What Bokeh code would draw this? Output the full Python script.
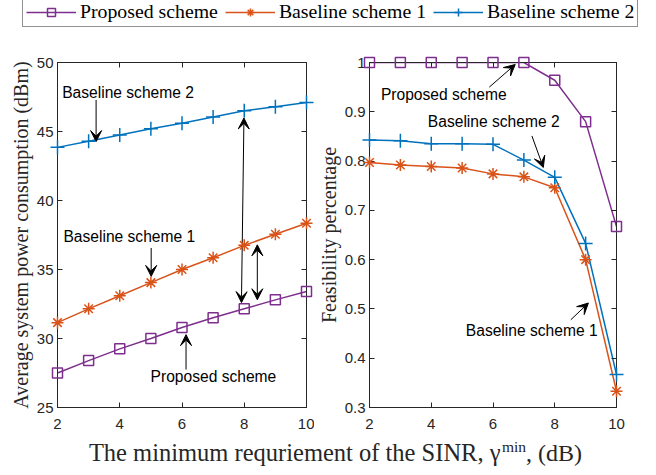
from bokeh.plotting import figure
from bokeh.models import (Range1d, LinearAxis, FixedTicker, Label, Arrow, VeeHead,
                          Legend, LegendItem)
from bokeh.layouts import column, row
from bokeh.embed import file_html
from bokeh.resources import INLINE

# ---------------- data ----------------
gamma_min = [2, 3, 4, 5, 6, 7, 8, 9, 10]
series_names = ["Proposed scheme", "Baseline scheme 1", "Baseline scheme 2"]

power_proposed = [27.5, 28.4, 29.25, 30.0, 30.8, 31.5, 32.15, 32.8, 33.4]
power_baseline1 = [31.15, 32.15, 33.1, 34.05, 35.0, 35.85, 36.75, 37.55, 38.35]
power_baseline2 = [43.85, 44.3, 44.75, 45.2, 45.6, 46.05, 46.5, 46.8, 47.1]

feas_proposed = [1.0, 1.0, 1.0, 1.0, 1.0, 1.0, 0.964, 0.88, 0.667]
feas_baseline1 = [0.797, 0.792, 0.789, 0.786, 0.774, 0.768, 0.746, 0.6, 0.333]
feas_baseline2 = [0.843, 0.841, 0.835, 0.835, 0.834, 0.802, 0.767, 0.633, 0.367]

x_ticks = [2, 4, 6, 8, 10]
power_ticks = [25, 30, 35, 40, 45, 50]
feas_ticks = [0.3, 0.4, 0.5, 0.6, 0.7, 0.8, 0.9, 1.0]
feas_tick_labels = ["0.3", "0.4", "0.5", "0.6", "0.7", "0.8", "0.9", "1"]

x_label_main = "The minimum requriement of the SINR, \u03b3"
x_label_sup = "min"
x_label_tail = ", (dB)"
power_label = "Average system power consumption (dBm)"
feas_label = "Feasibility percentage"

# annotations: (text, x, y) and arrows (x_start, y_start, x_end, y_end)
notes_a = [("Baseline scheme 2", 2.15, 47.84), ("Baseline scheme 1", 2.19, 37.4),
           ("Proposed scheme", 4.99, 27.26)]
arrows_a = [(3.24, 47.29, 3.24, 44.27), (5.01, 36.56, 5.01, 34.5), (6.13, 27.75, 6.13, 30.28)]
double_arrows_a = [(7.91, 32.6, 7.99, 45.98), (8.42, 32.81, 8.42, 36.79)]
notes_b = [("Proposed scheme", 2.37, 0.936), ("Baseline scheme 2", 3.89, 0.880),
           ("Baseline scheme 1", 5.12, 0.456)]
arrows_b = [(5.88, 0.950, 6.72, 0.996), (7.26, 0.851, 7.63, 0.787), (8.52, 0.478, 9.09, 0.512)]

# ---------------- style ----------------
AX = "#262626"
COLORS = ["#7E2F8E", "#D95319", "#0072BD"]
MARKERS = ["square", "asterisk", "cross"]
MSIZE = [10, 12, 14]
SANS = "Liberation Sans"
SERIF = "Liberation Serif"


def style_axis(ax, ticks, labels=None, show=True, standoff=4):
    ax.ticker = FixedTicker(ticks=ticks)
    ax.minor_tick_line_color = None
    ax.major_tick_in = 5
    ax.major_tick_out = 0
    ax.axis_line_color = AX
    ax.axis_line_width = 1
    ax.major_tick_line_color = AX
    ax.major_label_text_color = AX
    ax.major_label_text_font = SANS
    ax.major_label_text_font_size = "15px"
    ax.major_label_standoff = standoff
    if labels is not None:
        ax.major_label_overrides = dict(zip(ticks, labels))
    if not show:
        ax.major_label_text_color = None
        ax.major_label_text_alpha = 0
        ax.major_label_text_font_size = "1px"
        ax.major_label_standoff = 0
        ax.axis_label_standoff = 0


def make_panel(ys_list, y_range, y_ticks, y_tick_labels, y_label, frame_w, bl, br,
               title, notes, arrows, doubles):
    p = figure(frame_width=frame_w, frame_height=345, x_range=Range1d(2, 10), y_range=y_range,
               min_border_left=bl, min_border_right=br, min_border_top=34, min_border_bottom=31,
               output_backend="svg", toolbar_location=None,
               background_fill_color="white", border_fill_color="white")
    p.outline_line_color = AX
    p.grid.visible = False
    style_axis(p.xaxis[0], x_ticks, standoff=11)
    style_axis(p.yaxis[0], y_ticks, y_tick_labels, standoff=4)
    ya = p.yaxis[0]
    ya.axis_label = y_label
    ya.axis_label_text_font = SERIF
    ya.axis_label_text_font_size = "20px"
    ya.axis_label_text_font_style = "normal"
    ya.axis_label_text_color = AX
    ya.axis_label_standoff = 2
    top = LinearAxis()
    style_axis(top, x_ticks, show=False)
    p.add_layout(top, "above")
    right = LinearAxis()
    style_axis(right, y_ticks, show=False)
    p.add_layout(right, "right")

    for ys, c, m, s in zip(ys_list, COLORS, MARKERS, MSIZE):
        p.line(gamma_min, ys, line_color=c, line_width=1.5)
        p.scatter(gamma_min, ys, marker=m, size=s, line_color=c, fill_color=None,
                  line_width=1.5, level="overlay")

    p.add_layout(Label(x=6, y=355, y_units="screen", text=title, text_align="center",
                       text_baseline="middle", text_font=SANS, text_font_size="15px",
                       text_color="black"))
    for t, x, y in notes:
        p.add_layout(Label(x=x, y=y, text=t, text_align="left", text_baseline="middle",
                           text_font=SANS, text_font_size="15.6px", text_color="black"))
    for x0, y0, x1, y1 in arrows:
        p.add_layout(Arrow(end=VeeHead(size=11, fill_color="black", line_color="black", line_width=1),
                           x_start=x0, y_start=y0, x_end=x1, y_end=y1,
                           line_color="black", line_width=1))
    for x0, y0, x1, y1 in doubles:
        p.add_layout(Arrow(start=VeeHead(size=11, fill_color="black", line_color="black", line_width=1),
                           end=VeeHead(size=11, fill_color="black", line_color="black", line_width=1),
                           x_start=x0, y_start=y0, x_end=x1, y_end=y1,
                           line_color="black", line_width=1))
    return p


pa = make_panel([power_proposed, power_baseline1, power_baseline2], Range1d(25, 50),
                power_ticks, None, power_label, 249, 57, 8, "(a)",
                notes_a, arrows_a, double_arrows_a)
pb = make_panel([feas_proposed, feas_baseline1, feas_baseline2], Range1d(0.3, 1.0),
                feas_ticks, feas_tick_labels, feas_label, 247, 53, 26, "(b)",
                notes_b, arrows_b, [])

# ---------------- legend strip ----------------
leg = figure(width=640, height=28, x_range=Range1d(0, 1), y_range=Range1d(0, 1),
             x_axis_location=None, y_axis_location=None, min_border=0,
             output_backend="svg", toolbar_location=None)
leg.outline_line_color = None
leg.grid.visible = False
items = []
for name, ys, c, m, s in zip(series_names, [power_proposed, power_baseline1, power_baseline2],
                             COLORS, MARKERS, MSIZE):
    lr = leg.line(gamma_min, ys, line_color=c, line_width=1.5)
    sr = leg.scatter(gamma_min, ys, marker=m, size=s, line_color=c, fill_color=None, line_width=1.5)
    items.append(LegendItem(label=name, renderers=[lr, sr]))
legend = Legend(items=items, orientation="horizontal", location=(22, 1), margin=0,
                padding=3, spacing=7, label_standoff=4, glyph_width=50, glyph_height=20,
                label_height=20, label_text_font=SERIF, label_text_font_size="19.8px",
                label_text_color="black", border_line_color=AX, border_line_width=1,
                background_fill_color="white", background_fill_alpha=1.0)
leg.add_layout(legend)

# ---------------- x label strip ----------------
xl = figure(width=640, height=29, x_range=Range1d(0, 640), y_range=Range1d(0, 29),
            x_axis_location=None, y_axis_location=None, min_border=0,
            output_backend="svg", toolbar_location=None)
xl.outline_line_color = None
xl.grid.visible = False
xl.add_layout(Label(x=500, y=15, x_units="screen", y_units="screen", text=x_label_main,
                    text_align="right", text_baseline="middle",
                    text_font=SERIF, text_font_size="24.5px", text_color=AX))
xl.add_layout(Label(x=501.5, y=21.5, x_units="screen", y_units="screen", text=x_label_sup,
                    text_align="left", text_baseline="middle",
                    text_font=SERIF, text_font_size="15.5px", text_color=AX))
xl.add_layout(Label(x=525.5, y=15, x_units="screen", y_units="screen", text=x_label_tail,
                    text_align="left", text_baseline="middle",
                    text_font=SERIF, text_font_size="24px", text_color=AX))

layout = column(leg, row(pa, pb), xl)
open("out.html", "w").write(file_html(layout, INLINE))
